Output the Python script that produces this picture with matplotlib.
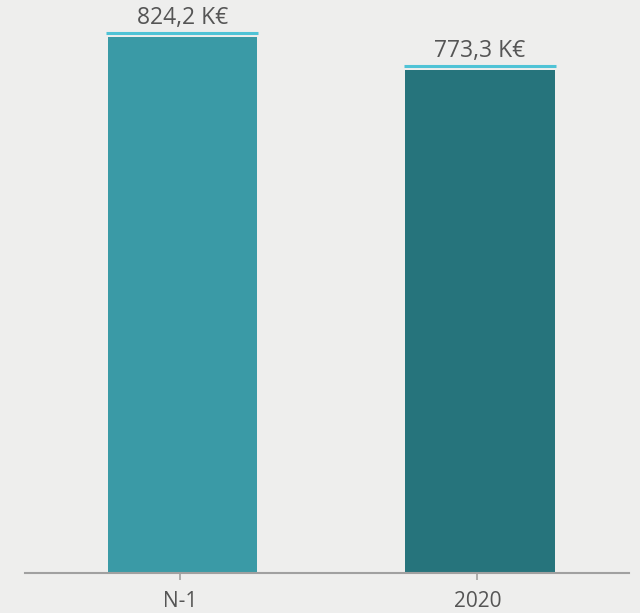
import matplotlib
matplotlib.use("Agg")
import matplotlib.pyplot as plt

categories = ["N-1", "2020"]
values = [824.2, 773.3]
labels = ["824,2 K€", "773,3 K€"]
colors = ["#3A9AA6", "#26747C"]

BG = "#EEEEED"
TEXT = "#555555"

plt.rcParams["font.family"] = ["Open Sans", "DejaVu Sans"]

fig = plt.figure(figsize=(6.40, 6.13), dpi=100, facecolor=BG)
ax = fig.add_axes([25 / 640, 40 / 613, 604 / 640, 573 / 613])
ax.set_facecolor(BG)

x = list(range(len(categories)))
w = 0.503
shift = 0.009  # bars sit a hair right of the ticks
bx = [xi + shift for xi in x]
ax.bar(bx, values, width=w, color=colors, zorder=2)

gap = 6.0
for xi, v, lab in zip(bx, values, labels):
    ax.hlines(v + gap, xi - w / 2 - 0.004, xi + w / 2 + 0.004,
              color="#4FC3D6", lw=2.2, zorder=3)
    ax.annotate(lab, (xi, v + gap), xytext=(0, 2), textcoords="offset points",
                ha="center", va="bottom", fontsize=16.5, color=TEXT)

ax.set_xlim(-0.52, 1.51)
ax.set_ylim(0, 881)

for s in ["top", "right", "left"]:
    ax.spines[s].set_visible(False)
ax.spines["bottom"].set_color("#A0A0A0")
ax.spines["bottom"].set_linewidth(1.5)
ax.set_yticks([])
ax.set_xticks(x)
ax.set_xticklabels(categories, fontsize=15, color=TEXT)
ax.tick_params(axis="x", direction="inout", length=10, width=1.2,
               color="#A0A0A0", pad=8)

fig.savefig("out.png", dpi=100, facecolor=BG)
